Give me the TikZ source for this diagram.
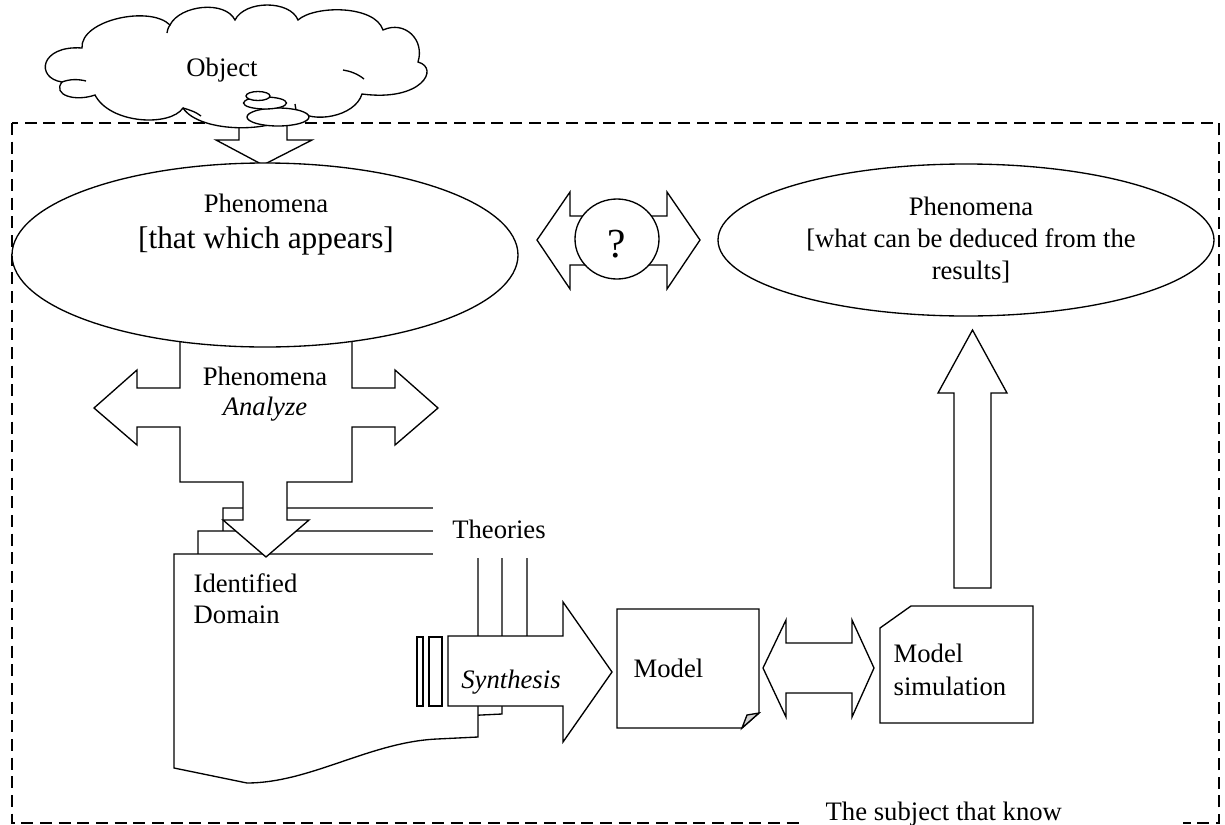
\documentclass[tikz,border=0pt]{standalone}
\usepackage{fontspec}
\setmainfont{Liberation Serif}
\usetikzlibrary{shapes.geometric}
\tikzset{
  txt/.style={font=\fontsize{20}{24}\selectfont, inner sep=0pt, anchor=base},
  itxt/.style={font=\fontsize{20}{24}\selectfont\itshape, inner sep=0pt, anchor=base},
  ltxt/.style={font=\fontsize{20}{24}\selectfont, inner sep=0pt, anchor=base west},
  shp/.style={draw=black, fill=white, line width=1pt},
  frame/.style={draw=black, line width=1pt, dash pattern=on 9pt off 5pt},
}
\begin{document}
\begin{tikzpicture}[x=0.75pt, y=-0.75pt, line width=1pt]
\useasboundingbox (0,0) rectangle (1225,825);
% subject frame
\draw[frame] (12,123) rectangle (1219,823);
% arrow from cloud to phenomena
\draw[shp] (239,110) -- (239,140) -- (216,140) -- (263,165) -- (312,140) -- (287,140) -- (287,110) -- cycle;
% cloud
\draw[shp] (82,48) .. controls (80,20) and (150,5) .. (170,25)
  .. controls (180,5) and (225,0) .. (235,20)
  .. controls (245,0) and (290,0) .. (298,20)
  .. controls (315,5) and (375,5) .. (383,30)
  .. controls (405,20) and (425,40) .. (418,62)
  .. controls (440,68) and (422,102) .. (362,94)
  .. controls (355,117) and (312,124) .. (297,110)
  .. controls (280,134) and (200,134) .. (183,108)
  .. controls (170,127) and (110,124) .. (95,95)
  .. controls (75,102) and (52,95) .. (62,82)
  .. controls (35,78) and (40,45) .. (82,48) -- cycle;
\draw (62,82) .. controls (70,79) and (78,79) .. (86,81);
\draw (343,70) .. controls (350,71) and (358,74) .. (364,79);
\draw (183,108) .. controls (190,110) and (196,112) .. (201,116);
\draw (170,25) .. controls (168,28) and (167,31) .. (167,33);
\draw (295,104) -- (296,110);
\node[txt] (obj) at (222,76) {Object};
% thought bubbles
\draw[shp] (278,117) ellipse [x radius=31, y radius=9];
\draw[shp] (265,103) ellipse [x radius=21.5, y radius=6];
\draw[shp] (258,96) ellipse [x radius=12, y radius=4.5];
% stacked documents (identified domain)
\draw[shp, shift={(49,-46)}] (174,554) -- (478,554) -- (478,737) -- (437,739) .. controls (370,742) and (310,783) .. (247,783) -- (174,768) -- cycle;
\draw[shp, shift={(24,-23)}] (174,554) -- (478,554) -- (478,737) -- (437,739) .. controls (370,742) and (310,783) .. (247,783) -- (174,768) -- cycle;
\draw[shp] (174,554) -- (478,554) -- (478,737) -- (437,739) .. controls (370,742) and (310,783) .. (247,783) -- (174,768) -- cycle;
% analyze arrow (left, right, down)
\draw[shp] (180,300) -- (180,388) -- (137,388) -- (137,370) -- (94,408) -- (137,445) -- (137,427) -- (180,427)
  -- (180,482) -- (243,482) -- (243,520) -- (223,520) -- (266,557) -- (309,520) -- (287,520) -- (287,482)
  -- (352,482) -- (352,427) -- (395,427) -- (395,445) -- (438,408) -- (395,370) -- (395,388) -- (352,388) -- (352,300) -- cycle;
% phenomena ellipse (left)
\node[shp, ellipse, minimum width=379.5pt, minimum height=138pt, inner sep=0pt] (phenL) at (265,255) {};
\node[txt] (phenLa) at (266,212) {Phenomena};
\node[txt, font=\fontsize{23.5}{28}\selectfont] (phenLb) at (266,248) {[that which appears]};
\node[txt] (anA) at (265,385) {Phenomena};
\node[itxt] (anB) at (265,415) {Analyze};
% theories label box
\fill[white] (433,498) rectangle (560,558);
\node[txt] (theo) at (499,538) {Theories};
\node[ltxt] (idA) at (193,592) {Identified};
\node[ltxt] (idB) at (193,623) {Domain};
% synthesis arrow
\draw[shp] (448,636) -- (563,636) -- (563,602) -- (612,672) -- (563,742) -- (563,706) -- (448,706) -- cycle;
\draw[shp] (417,637) rectangle (423,706);
\draw[shp] (429,637) rectangle (442,706);
\node[itxt] (syn) at (511,688) {Synthesis};
% model
\draw[shp] (617,609) -- (759,609) -- (759,713) -- (742,728) -- (617,728) -- cycle;
\draw[fill=gray!35] (742,728) .. controls (744,721) .. (747,715) -- (759,713) -- cycle;
\node[ltxt] (model) at (633,677) {Model};
% model <-> simulation
\draw[shp] (763,668) -- (786,620) -- (786,643) -- (852,643) -- (852,620) -- (874,668) -- (852,717) -- (852,693) -- (786,693) -- (786,717) -- cycle;
% model simulation
\draw[shp] (911,606) -- (1033,606) -- (1033,723) -- (880,723) -- (880,628) -- cycle;
\node[ltxt] (simA) at (893,662) {Model};
\node[ltxt] (simB) at (893,695) {simulation};
% up arrow
\draw[shp] (954,588) -- (954,393) -- (938,393) -- (972.5,330) -- (1007,393) -- (991,393) -- (991,588) -- cycle;
% right phenomena ellipse
\node[shp, ellipse, minimum width=372pt, minimum height=114pt, inner sep=0pt] (phenR) at (966,240) {};
\node[txt] (phenRa) at (971,215) {Phenomena};
\node[txt] (phenRb) at (971,247) {[what can be deduced from the};
\node[txt] (phenRc) at (971,279) {results]};
% question double arrow
\draw[shp] (537,240) -- (570,192) -- (570,216) -- (667,216) -- (667,192) -- (700,240) -- (667,289) -- (667,265) -- (570,265) -- (570,289) -- cycle;
\node[shp, ellipse, minimum width=63pt, minimum height=60pt, inner sep=0pt] (qc) at (617,239) {};
\node[txt, font=\fontsize{31}{36}\selectfont] (q) at (617,257) {?};
% subject label
\fill[white] (800,797) rectangle (1183,830);
\node[ltxt] (subj) at (825,820) {The subject that know};
\end{tikzpicture}
\end{document}
